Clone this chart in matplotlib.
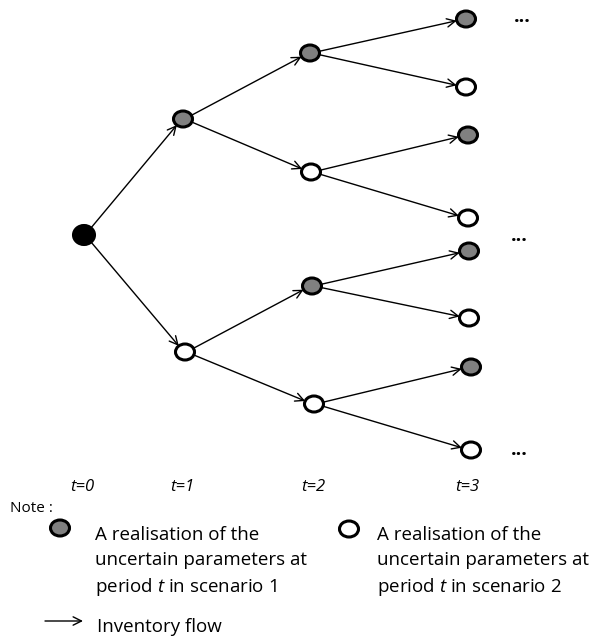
import matplotlib.pyplot as plt
from matplotlib.patches import Ellipse
import numpy as np

# Scenario tree nodes (pixel layout of the original drawing), per period
node_x = [[84],
          [183, 185],
          [310, 311, 312, 314],
          [466, 466, 468, 468, 469, 469, 471, 471]]
node_y = [[235],
          [119, 352],
          [53, 172, 286, 404],
          [19, 87, 135, 218, 251, 318, 367, 450]]
# 0 = root, 1 = scenario 1 (grey), 2 = scenario 2 (white)
node_kind = [[0],
             [1, 2],
             [1, 2, 1, 2],
             [1, 2, 1, 2, 1, 2, 1, 2]]

period_labels = ["t=0", "t=1", "t=2", "t=3"]
period_x = [82, 182, 313, 467]
ellipsis_pos = [(522, 20), (519, 239), (519, 453)]

FILL = {0: "black", 1: "#808080", 2: "white"}
RX, RY = 9.5, 8.0

plt.rcParams["font.family"] = ["Open Sans", "DejaVu Sans"]
plt.rcParams["mathtext.fontset"] = "custom"
plt.rcParams["mathtext.rm"] = "Open Sans"
plt.rcParams["mathtext.it"] = "Open Sans:italic"

fig = plt.figure(figsize=(5.97, 6.40), dpi=100)
ax = fig.add_axes([0, 0, 1, 1])
ax.set_xlim(0, 597)
ax.set_ylim(640, 0)
ax.axis("off")


def draw_node(x, y, kind, rx=RX, ry=RY):
    if kind == 0:
        rx, ry = 10.5, 9.5
    ax.add_patch(Ellipse((x, y), 2 * rx, 2 * ry, facecolor=FILL[kind],
                         edgecolor="black", linewidth=2.2, zorder=3))


def draw_arrow(x0, y0, x1, y1):
    d = np.array([x1 - x0, y1 - y0], dtype=float)
    u = d / np.hypot(*d)
    a = (x0 + u[0] * RX, y0 + u[1] * RY)
    b = (x1 - u[0] * RX, y1 - u[1] * RY)
    ax.annotate("", xy=b, xytext=a,
                arrowprops=dict(arrowstyle="->", color="black", lw=1.0,
                                mutation_scale=15, shrinkA=0, shrinkB=0))


# Edges: each node branches into two children at the next period
for lvl in range(len(node_x) - 1):
    for i, (px, py) in enumerate(zip(node_x[lvl], node_y[lvl])):
        for j in (2 * i, 2 * i + 1):
            draw_arrow(px, py, node_x[lvl + 1][j], node_y[lvl + 1][j])

for xs, ys, ks in zip(node_x, node_y, node_kind):
    for x, y, k in zip(xs, ys, ks):
        draw_node(x, y, k)

for ex, ey in ellipsis_pos:
    ax.text(ex, ey - 3, "...", fontsize=14, ha="center", va="center",
            fontweight="bold")

for lab, x in zip(period_labels, period_x):
    ax.text(x, 487, lab, fontsize=12, style="italic", ha="center", va="center")

# Note / legend
ax.text(10, 508, "Note :", fontsize=11, ha="left", va="center")
draw_node(60, 528, 1)
draw_node(349, 529, 2)
txt = dict(fontsize=13.5, ha="left", va="center", linespacing=1.45)
ax.text(95, 562, "A realisation of the\nuncertain parameters at\nperiod $\\it{t}$ in scenario 1", **txt)
ax.text(377, 562, "A realisation of the\nuncertain parameters at\nperiod $\\it{t}$ in scenario 2", **txt)
ax.annotate("", xy=(83, 621), xytext=(45, 621),
            arrowprops=dict(arrowstyle="->", color="black", lw=1.0,
                            mutation_scale=15, shrinkA=0, shrinkB=0))
ax.text(97, 627, "Inventory flow", **txt)

fig.savefig("out.png", dpi=100)
